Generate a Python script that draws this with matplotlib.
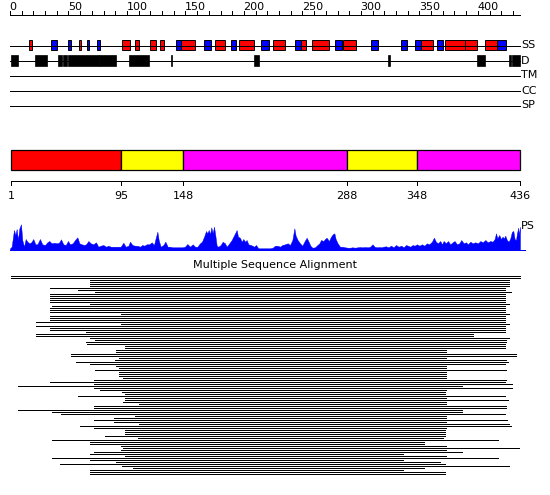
import numpy as np
import matplotlib
matplotlib.use("Agg")
import matplotlib.pyplot as plt
from matplotlib.patches import Rectangle

seq_len = 436

# secondary structure segments (residues), H = helix, E = strand
ss_start = [16, 35, 50, 59, 65.5, 74, 96, 107, 120, 128, 142, 146, 166, 175, 189, 196,
            215, 225, 244, 249, 258, 278, 285, 309, 334, 346, 351, 365, 372, 389, 406, 416]
ss_end = [19, 40, 52, 61, 67.5, 77, 103, 110, 125, 132, 146, 158, 172, 184, 193, 209,
          221, 235, 249, 253, 273, 284, 296, 315, 339, 351, 362, 370, 389, 399, 416, 424]
ss_type = "HEEHEEHHHHEHEHEHEHEHHEHEEEHEHHHE"

# disorder segments
dis_start = [1, 21, 41, 45.5, 50, 76.5, 102, 137.5, 209, 323.5, 399, 427, 429]
dis_end = [7, 32, 44.5, 49, 76, 91, 118.5, 138.5, 212.5, 324.5, 406.5, 428, 436]

track_names = ["SS", "D", "TM", "CC", "SP"]

# domain boundaries
dom_bounds = [1, 95, 148, 288, 348, 436]
dom_colors = ["#ff0000", "#ffff00", "#ff00ff", "#ffff00", "#ff00ff"]

# PS profile
ps_pos = [0, 1.4, 3.4, 4.6, 5.7, 6.8, 8, 9.4, 10.5, 12, 13.4, 14.8, 16.5, 18.2, 19.9, 21.7,
          23.4, 25.6, 27.6, 29.9, 31.9, 33.6, 35.6, 37.9, 39.9, 41.9, 43.6, 45.6, 47.6, 49.6,
          51.3, 53.6, 55.6, 57.6, 59.3, 61.3, 63.3, 65, 67, 69, 71.2, 73.5, 75.5, 77.5, 79.8,
          82.1, 84.1, 86.1, 88.3, 90.6, 92.6, 94.6, 96.9, 98.9, 101.2, 102.6, 104.6, 106.9,
          108.9, 111.1, 113.1, 114.8, 116.8, 119.1, 121.1, 123.1, 124.5, 126, 127.1, 128.8,
          131.1, 132.8, 134.8, 136.8, 139.1, 141.1, 143.1, 145.3, 147.3, 149.6, 151.6, 153.9,
          156.2, 158.2, 160.2, 162.4, 164.1, 165.9, 167.6, 168.7, 169.9, 171, 172.1, 173.3,
          174.4, 175.5, 176.7, 178.1, 180.1, 181.8, 183.8, 185.2, 187.5, 189.5, 190.9, 192.4,
          193.8, 194.9, 196.6, 198.1, 199.5, 200.9, 202.3, 203.8, 205.8, 207.2, 208.6, 210.3,
          212.3, 214.3, 216.6, 219.4, 222.3, 224.6, 226.6,
          228.8, 230.8, 232.8, 235.1, 237.4, 239.4, 241.4, 243.1, 244.2, 245.9, 247.9, 249.9,
          251.6, 253.6, 255, 256.8, 258.5, 260.8, 262.8, 264.5, 265.9, 267.9, 269.3, 270.7,
          272.7, 274.4, 275.9, 277.3, 278.4, 280.1, 282.1, 284.1, 286.4, 288.7, 290.7, 292.7,
          295, 297, 299.3, 301.3, 303.6, 305.9, 307.9, 309.9, 311.6, 313.6, 315.6, 317.3,
          319.3, 321.3, 323.6, 325.6, 327.9, 329.9, 332.2, 334.5, 336.5, 338.5, 340.2, 342.2,
          344.2, 345.9, 347.9, 349.9, 352.2, 354.2, 356.4, 358.4, 360.7, 362.4, 364.1, 365.8,
          367.8, 369.3, 370.7, 372.7, 374.4, 376.4, 378.4, 380.1, 382.1, 384.1, 385.8, 387.8,
          389.8, 391.5, 393.5, 395.5, 397.8, 400.1, 402.1, 404.1, 406.4, 408.4, 410.6, 412.6,
          414.3, 415.5, 416.6, 418.3, 419.7, 421.1, 422.3, 423.4, 424.8, 426.3, 427.7, 429.1,
          430.3, 431.4, 432.6, 433.4, 434.5, 435.2, 436]
ps_val = [1.7, 3.3, 20, 15, 21, 10, 21.7, 25.7, 10, 3.3, 11, 8.3, 6.7, 7.7, 11, 5.7,
          5.7, 11, 5.7, 5, 7.7, 9, 6.7, 7.3, 6.7, 7.3, 10.7, 5.7, 5, 9,
          5.7, 6.7, 10, 12.7, 6.7, 5.7, 5, 5.7, 9, 6.7, 5.7, 7.7, 3.3, 4.3, 5,
          3.3, 4.3, 3.3, 3.3, 3.3, 3.3, 3.3, 7.3, 3.3, 4.3, 8.3, 5, 4.3,
          4.3, 3.3, 5, 4.3, 5.7, 5.7, 7.7, 5, 11.7, 18.3, 10, 3.3,
          5, 8.3, 3.3, 3.3, 2.7, 2.7, 2.7, 2.7, 2.7, 3.3, 6, 3.3,
          5.7, 3.3, 3.3, 6.7, 8.3, 13.3, 19, 16.7, 20, 15.7, 22.7, 16.7,
          23.3, 15, 4.3, 3.3, 5, 8.3, 6.7, 3.3, 6.7, 10, 13.3, 16.7,
          20, 13.3, 12.3, 8.3, 11, 8.3, 10, 5.7, 5, 4.3, 3.3, 5,
          1.7, 1.7, 1.7, 1.7, 1.7, 2.3, 4.3,
          4.3, 3.3, 5, 5.7, 6.7, 5, 10, 21.7, 14.3, 10, 6.7, 4.3,
          8.3, 12.3, 9, 4.3, 2.3, 2.7, 5, 6.7, 10, 9, 11, 12.3,
          9, 13.3, 15.7, 16.7, 11, 6.7, 3.3, 3.3, 2.7, 2.3, 2.3, 2.7,
          2.3, 2.7, 3, 2.7, 3, 2.7, 3.3, 5.7, 3.3, 2.7, 3, 2.7,
          3.3, 3.7, 2.7, 4.3, 2.7, 5, 3.3, 4.3, 2.7, 5, 4.3, 3.3,
          5, 4.3, 5.7, 4.3, 5.7, 4.3, 6.7, 5.7, 8.3, 12.3, 8.3, 6.7,
          9, 5.7, 9, 6.7, 9, 5.7, 7.7, 9, 5.7, 6.7, 10, 6.7,
          7.7, 5.7, 8.3, 6.7, 7.7, 6.7, 9, 7.7, 10, 7.7, 9, 8.3,
          11, 16.7, 11.7, 15, 11, 13.3, 11.7, 14.3, 10, 8.3, 11.7, 18.3,
          19, 11, 10, 16.7, 22.3, 15, 23.3]

# multiple sequence alignment rows: covered range per sequence
aln_start = [1, 1, 68, 68, 68, 68, 34, 58, 73, 34,
             34, 34, 34, 34, 68, 36, 34, 34, 34, 95,
             34, 34, 34, 22, 95, 22, 34, 34, 65, 22,
             22, 68, 73, 65, 66, 98, 98, 91, 91, 52,
             52, 93, 90, 56, 68, 91, 93, 73, 93, 93,
             93, 97, 72, 34, 72, 7, 72, 77, 96, 98,
             58, 98, 98, 97, 110, 72, 72, 7, 36, 44,
             107, 89, 72, 89, 110, 60, 72, 98, 98, 98,
             81, 109, 36, 68, 68, 95, 97, 95, 72, 68,
             98, 36, 68, 91, 43, 96, 105, 68, 68, 68]
aln_end = [436, 436, 427, 427, 427, 427, 423, 423, 428, 423,
           423, 423, 423, 423, 427, 423, 423, 423, 423, 427,
           423, 423, 423, 423, 427, 423, 423, 423, 423, 396,
           396, 427, 424, 424, 423, 423, 423, 373, 373, 433,
           433, 373, 424, 426, 423, 373, 373, 424, 373, 373,
           373, 373, 424, 423, 429, 386, 429, 373, 372, 372,
           423, 373, 426, 373, 373, 424, 424, 386, 386, 423,
           373, 373, 425, 373, 427, 428, 373, 372, 372, 372,
           372, 370, 417, 354, 354, 373, 435, 373, 386, 336,
           373, 417, 336, 368, 372, 427, 354, 336, 372, 372]

W, H = 550, 495
k = 510 / seq_len
xlim = (-10 / k, (W - 10) / k)

fig = plt.figure(figsize=(W / 100, H / 100), dpi=100)
fig.patch.set_facecolor("white")


def band(top, bottom):
    return [0, 1 - bottom / H, 1, (bottom - top) / H]


ax = fig.add_axes([0, 0, 1, 1])
ax.set_xlim(*xlim)
ax.set_ylim(H, 0)
ax.axis("off")

fs = 8
lw = 0.6

# top ruler
ax.hlines(14.5, 0, seq_len, color="black", lw=lw, antialiased=False)
ax.vlines(np.arange(0, seq_len, 10), 11, 14.5, color="black", lw=lw, antialiased=False)
for t in range(0, seq_len, 50):
    ax.text(t - 0.5, 6.5, str(t), ha="left", va="center", fontsize=fs)

# feature tracks
track_y = [45.5, 60.5, 75.5, 90.5, 105.5]
for name, y in zip(track_names, track_y):
    ax.hlines(y, 0, seq_len, color="black", lw=lw, antialiased=False)
    ax.text(seq_len + 1, y, name, ha="left", va="center", fontsize=fs)

for s, e, t in zip(ss_start, ss_end, ss_type):
    c = "#ff0000" if t == "H" else "#0000ff"
    ax.add_patch(Rectangle((s, 40), e - s, 10, facecolor=c, edgecolor="black", lw=0.7))

for s, e in zip(dis_start, dis_end):
    ax.add_patch(Rectangle((s, 54.5), e - s, 11, facecolor="black", edgecolor="black", lw=0.5))

# domain bar
for i, c in enumerate(dom_colors):
    s, e = dom_bounds[i], dom_bounds[i + 1]
    ax.add_patch(Rectangle((s, 150), e - s, 20, facecolor=c, edgecolor="black", lw=0.9))
ax.hlines(180.5, dom_bounds[0], dom_bounds[-1], color="black", lw=lw, antialiased=False)
ax.vlines(dom_bounds, 180.5, 185, color="black", lw=lw, antialiased=False)
for b in dom_bounds:
    ax.text(b, 196, str(b), ha="center", va="center", fontsize=fs)

# PS profile
ax.hlines(249.5, 0, seq_len + 4, color="#0000ff", lw=lw, antialiased=False)
ax.text(seq_len + 1, 226, "PS", ha="left", va="center", fontsize=fs)
ax_ps = fig.add_axes(band(220, 250))
ax_ps.set_xlim(*xlim)
ax_ps.set_ylim(0, 30)
ax_ps.axis("off")
ax_ps.fill_between(ps_pos, 0, ps_val, color="#0000ff", lw=0.3, edgecolor="#0000ff")

# alignment
fig.text(0.5, 1 - 265.5 / H, "Multiple Sequence Alignment", ha="center", va="center", fontsize=fs)
n = len(aln_start)
ax_aln = fig.add_axes(band(274.5, 274.5 + 2 * n))
ax_aln.set_xlim(*xlim)
ax_aln.set_ylim(n - 0.5, -0.5)
ax_aln.axis("off")
ax_aln.hlines(np.arange(n), aln_start, aln_end, color="black", lw=0.6, antialiased=False)

fig.savefig("out.png", dpi=100, facecolor="white")
